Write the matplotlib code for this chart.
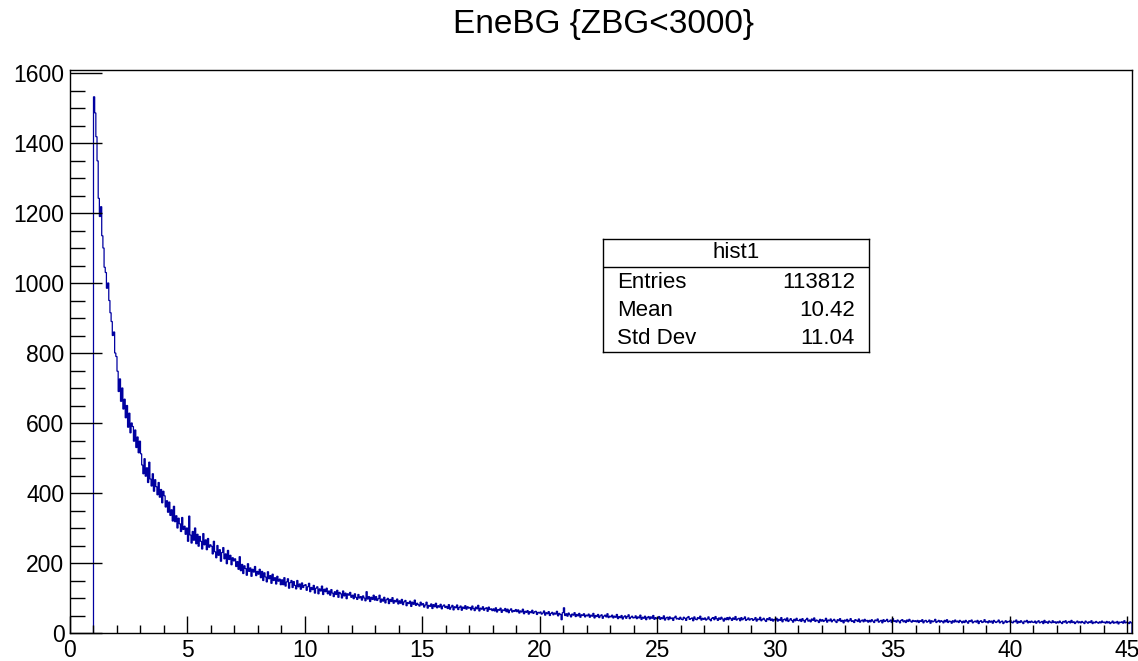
import numpy as np
import matplotlib
matplotlib.use("Agg")
import matplotlib.pyplot as plt
from matplotlib.ticker import MultipleLocator

plt.rcParams['font.family'] = ['Liberation Sans', 'DejaVu Sans']

# ── データ (ビン幅 0.05, 1.0 から開始) ─────────────────────
bin_lo = 1.0
bin_w = 0.05

# x = 1 .. 5
counts_head = [
    1532, 1486, 1418, 1349, 1242, 1190, 1218, 1135, 1100, 1045, 1030, 985, 1000, 950, 915, 890, 850, 860, 800, 790,
    748, 690, 726, 662, 700, 640, 668, 615, 650, 588, 628, 572, 600, 590, 548, 580, 530, 560, 515, 548,
    512, 480, 455, 498, 448, 472, 430, 488, 440, 420, 455, 405, 438, 418, 395, 430, 388, 410, 372, 405,
    392, 360, 378, 345, 374, 336, 352, 320, 362, 318, 335, 300, 328, 312, 290, 330, 296, 305, 282, 300,
]
# x = 5 .. 13
counts_mid = [
    262, 334, 280, 257, 290, 265, 300, 255, 282, 248, 276, 262, 240, 284, 252, 266, 238, 270, 245, 252,
    248, 226, 262, 232, 215, 250, 222, 238, 205, 230, 244, 212, 226, 198, 236, 210, 222, 195, 215, 206,
    212, 190, 204, 182, 218, 178, 196, 170, 192, 184, 165, 198, 176, 186, 162, 182, 174, 190, 164, 176,
    168, 182, 158, 176, 150, 172, 160, 146, 175, 155, 164, 142, 168, 150, 158, 140, 162, 148, 154, 138,
    152, 138, 158, 134, 146, 155, 128, 144, 150, 130, 147, 136, 126, 150, 132, 140, 125, 143, 130, 136,
    138, 122, 132, 142, 118, 130, 124, 136, 114, 128, 132, 112, 126, 120, 134, 110, 125, 118, 128, 112,
    120, 108, 124, 114, 104, 118, 110, 122, 102, 116, 112, 100, 120, 106, 114, 98, 112, 108, 116, 102,
    108, 98, 112, 102, 96, 110, 100, 104, 94, 106, 100, 92, 118, 97, 104, 90, 102, 96, 108, 94,
]
# x = 13 .. 25
counts_tail1 = [
    104, 93, 98, 108, 88, 97, 91, 102, 86, 95, 99, 84, 96, 90, 101, 85, 93, 89, 97, 83,
    92, 85, 96, 81, 89, 93, 78, 87, 84, 91, 76, 88, 82, 94, 79, 85, 81, 77, 88, 80,
    84, 74, 80, 88, 71, 79, 76, 83, 70, 81, 75, 85, 72, 78, 74, 82, 69, 77, 80, 73,
    76, 70, 81, 68, 74, 79, 66, 75, 72, 80, 67, 73, 77, 65, 74, 70, 78, 68, 75, 71,
    73, 66, 77, 70, 64, 74, 69, 79, 63, 71, 68, 75, 65, 70, 72, 62, 74, 67, 69, 64,
    69, 63, 72, 60, 67, 65, 71, 59, 66, 64, 70, 61, 68, 58, 65, 69, 60, 64, 62, 67,
    61, 66, 57, 63, 60, 68, 55, 62, 59, 64, 54, 61, 58, 65, 56, 60, 62, 53, 59, 57,
    60, 54, 57, 63, 51, 58, 55, 61, 50, 56, 59, 52, 57, 54, 62, 49, 56, 53, 38, 58,
    72, 50, 55, 48, 57, 52, 46, 54, 51, 58, 47, 53, 49, 56, 45, 52, 50, 55, 46, 51,
    49, 54, 45, 51, 48, 56, 43, 50, 47, 53, 44, 49, 52, 42, 48, 51, 46, 55, 44, 48,
    46, 51, 43, 48, 45, 53, 41, 47, 44, 50, 40, 46, 49, 42, 47, 52, 41, 45, 48, 43,
    44, 49, 41, 46, 43, 51, 39, 45, 42, 48, 38, 44, 47, 40, 46, 42, 50, 39, 44, 41,
]
# x = 25 .. 45.2
counts_tail2 = [
    42, 47, 39, 44, 41, 49, 37, 43, 45, 38, 46, 41, 43, 36, 44, 48, 40, 42, 39, 45,
    40, 38, 45, 42, 36, 44, 47, 39, 41, 43, 35, 46, 40, 38, 44, 41, 48, 37, 42, 39,
    43, 37, 40, 46, 39, 35, 42, 44, 38, 47, 41, 36, 43, 39, 45, 40, 34, 42, 38, 44,
    38, 45, 41, 36, 43, 39, 47, 37, 40, 42, 35, 44, 38, 41, 46, 36, 39, 43, 37, 40,
    41, 36, 39, 44, 34, 40, 38, 45, 35, 39, 42, 37, 33, 41, 38, 44, 36, 40, 34, 39,
    37, 42, 34, 39, 36, 44, 32, 38, 40, 35, 43, 33, 37, 41, 36, 31, 39, 35, 42, 36,
    35, 39, 33, 41, 36, 31, 38, 42, 34, 37, 32, 40, 36, 43, 33, 37, 35, 30, 39, 34,
    38, 33, 36, 42, 31, 37, 35, 40, 32, 36, 39, 34, 30, 38, 35, 41, 33, 36, 29, 37,
    34, 39, 32, 36, 41, 33, 35, 30, 38, 36, 33, 40, 31, 35, 37, 32, 39, 34, 36, 31,
    36, 32, 38, 34, 30, 37, 35, 40, 31, 34, 36, 29, 38, 33, 35, 39, 32, 34, 37, 30,
    41, 33, 35, 31, 37, 34, 29, 36, 38, 32, 35, 30, 37, 33, 39, 34, 31, 36, 33, 35,
    32, 36, 30, 35, 33, 38, 29, 34, 36, 31, 33, 37, 28, 35, 32, 34, 39, 30, 33, 36,
    31, 35, 33, 29, 36, 32, 38, 30, 34, 33, 28, 35, 31, 37, 32, 34, 30, 36, 33, 29,
    34, 30, 36, 32, 28, 35, 33, 37, 29, 32, 34, 31, 36, 27, 33, 35, 30, 32, 38, 31,
    33, 29, 35, 31, 34, 28, 36, 32, 30, 33, 37, 29, 32, 34, 27, 31, 35, 30, 33, 32,
    36, 31, 29, 34, 32, 37, 28, 33, 30, 35, 31, 27, 34, 32, 36, 29, 33, 30, 34, 31,
    30, 34, 28, 32, 35, 29, 31, 33, 27, 36, 30, 32, 28, 34, 31, 29, 35, 30, 32, 28,
    32, 29, 34, 30, 27, 33, 31, 35, 28, 31, 33, 29, 36, 30, 32, 27, 31, 34, 29, 32,
    29, 33, 30, 27, 34, 31, 28, 32, 30, 35, 27, 31, 29, 33, 30, 28, 32, 29, 34, 30,
    31, 28, 33, 29, 32, 27, 30, 34, 28, 31, 29, 33, 26, 31, 30, 32, 28, 35, 29, 31,
    30, 27, 32, 29,
]

title = 'EneBG {ZBG<3000}'
stat_name = 'hist1'
stat_labels = ['Entries', 'Mean', 'Std Dev']
stat_values = ['113812', '10.42', '11.04']

counts = np.array(counts_head + counts_mid + counts_tail1 + counts_tail2, dtype=float)
edges = bin_lo + bin_w * np.arange(len(counts) + 1)

# ── 描画 ────────────────────────────────────────────────
W, H = 1138, 661
fig = plt.figure(figsize=(W / 100, H / 100), dpi=100, facecolor='white')
ax = fig.add_axes([70 / W, 1 - 633 / H, (1132 - 70) / W, (633 - 70) / H])

ax.stairs(counts, edges, color='#0000a0', linewidth=0.9, baseline=0)
ax.set_xlim(0, 45.2)
ax.set_ylim(0, counts.max() * 1.05)

ax.xaxis.set_major_locator(MultipleLocator(5))
ax.xaxis.set_minor_locator(MultipleLocator(1))
ax.yaxis.set_major_locator(MultipleLocator(200))
ax.yaxis.set_minor_locator(MultipleLocator(50))
ax.tick_params(axis='both', which='both', direction='in', top=False, right=False,
               labelsize=16.5, width=1, colors='black')
ax.tick_params(axis='x', which='major', length=12, pad=4)
ax.tick_params(axis='x', which='minor', length=6)
ax.tick_params(axis='y', which='major', length=23, pad=4)
ax.tick_params(axis='y', which='minor', length=11)
for s in ax.spines.values():
    s.set_linewidth(1)

fig.text(604 / W, 1 - 25 / H, title, ha='center', va='center', fontsize=24)

# 統計ボックス
bx0, bx1, by0, by1 = 603, 869, 239, 352
sax = fig.add_axes([bx0 / W, 1 - by1 / H, (bx1 - bx0) / W, (by1 - by0) / H])
sax.set_xlim(0, bx1 - bx0)
sax.set_ylim(by1 - by0, 0)
sax.set_xticks([])
sax.set_yticks([])
for s in sax.spines.values():
    s.set_linewidth(1)
sax.axhline(267 - by0, color='black', linewidth=1)
sax.text((bx1 - bx0) / 2, 253 - by0, stat_name, ha='center', va='center', fontsize=16)
for i, (lab, val) in enumerate(zip(stat_labels, stat_values)):
    yy = 282 - by0 + i * 28
    sax.text(14, yy, lab, ha='left', va='center', fontsize=16)
    sax.text(bx1 - bx0 - 14, yy, val, ha='right', va='center', fontsize=16)

plt.savefig('out.png', dpi=100, facecolor='white')
plt.close()
